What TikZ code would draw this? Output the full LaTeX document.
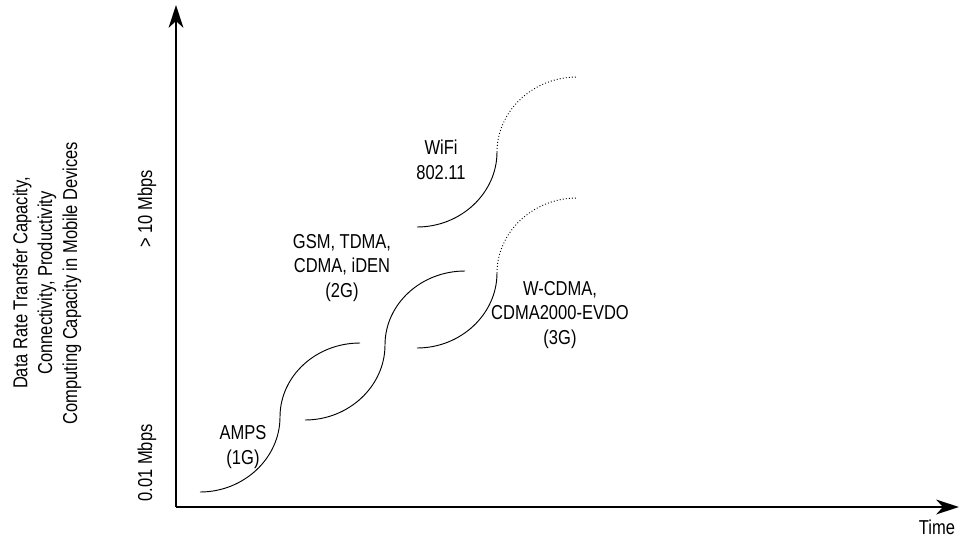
\documentclass[tikz,border=0pt]{standalone}
\usepackage{fontspec}
\setmainfont[FakeStretch=0.82]{Liberation Sans}
\usetikzlibrary{arrows.meta}
\tikzset{
  axis/.style={-{Stealth[length=17pt,width=11pt,inset=5pt]},line width=2.2pt},
  lbl/.style={align=center,font=\fontsize{15.1}{18.7}\selectfont,inner sep=0pt},
  ylbl/.style={lbl,rotate=90},
  wave/.style={line width=0.7pt},
  wavefut/.style={line width=0.7pt,dash pattern=on 0.7pt off 1.6pt},
}

\begin{document}
\begin{tikzpicture}[x=0.75pt,y=-0.75pt]
  \useasboundingbox (0,0) rectangle (961,540);
  % axes
  \coordinate (o) at (176,507);
  \coordinate (ytop) at (176,5);
  \coordinate (xend) at (959,507);
  \draw[axis] (o) -- (ytop);
  \draw[axis] (o) -- (xend);
  \node[lbl] (time) at (937,527) {Time};
  \node[ylbl] (yname) at (47,283)
       {Data Rate Transfer Capacity,\\Connectivity, Productivity\\Computing Capacity in Mobile Devices};
  \node[ylbl] (yhigh) at (147,209) {> 10 Mbps};
  \node[ylbl] (ylow) at (147,463) {0.01 Mbps};
  % generations
  \coordinate (g1s) at (200,492);
  \coordinate (g1m) at (280,417);
  \coordinate (g1e) at (360,343);
  \coordinate (g2s) at (305,420);
  \coordinate (g2m) at (385,345);
  \coordinate (g2e) at (465,271);
  \coordinate (g3s) at (417,348);
  \coordinate (g3m) at (497,273);
  \coordinate (g3e) at (577,198);
  \coordinate (wfs) at (417,227);
  \coordinate (wfm) at (497,152);
  \coordinate (wfe) at (577,77);
  \draw[wave] (g1s) .. controls +(44,0) and +(0,41) .. (g1m)
              .. controls +(0,-41) and +(-44,0) .. (g1e);
  \draw[wave] (g2s) .. controls +(44,0) and +(0,41) .. (g2m)
              .. controls +(0,-41) and +(-44,0) .. (g2e);
  \draw[wave] (g3s) .. controls +(44,0) and +(0,41) .. (g3m);
  \draw[wavefut] (g3m) .. controls +(0,-41) and +(-44,0) .. (g3e);
  \draw[wave] (wfs) .. controls +(44,0) and +(0,41) .. (wfm);
  \draw[wavefut] (wfm) .. controls +(0,-41) and +(-44,0) .. (wfe);
  \node[lbl] (amps) at (243,447) {AMPS\\(1G)};
  \node[lbl] (gsm) at (342,268) {GSM, TDMA,\\CDMA, iDEN\\(2G)};
  \node[lbl] (wifi) at (441,160) {WiFi\\802.11};
  \node[lbl] (wcdma) at (560,315) {W-CDMA,\\CDMA2000-EVDO\\(3G)};
\end{tikzpicture}
\end{document}
